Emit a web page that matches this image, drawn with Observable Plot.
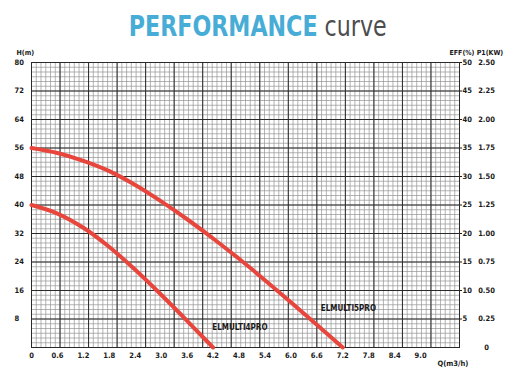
<!DOCTYPE html>
<html><head><meta charset="utf-8">
<script src="https://cdn.jsdelivr.net/npm/d3@7"></script>
<script src="https://cdn.jsdelivr.net/npm/@observablehq/plot@0.6"></script>
<style>
body{margin:0;background:#fff;width:515px;height:384px;overflow:hidden;position:relative;}
#title{position:absolute;top:12px;left:0;width:515px;text-align:center;font-family:"DejaVu Sans Condensed","DejaVu Sans",sans-serif;font-stretch:condensed;font-size:29px;line-height:29px;white-space:nowrap;}
#title .in{display:inline-block;transform:scaleX(0.85);transform-origin:center;}
#chart{position:absolute;top:42px;left:0;}
svg text{font-stretch:condensed;}
</style></head><body>
<div id="title"><span class="in"><span style="color:#47add6;font-weight:bold">PERFORMANCE</span> <span style="color:#4d4d4f">curve</span></span></div>
<div id="chart"></div>
<script>
// Series: flow Q (m3/h) and head H (m)
const flow5 = [0, 0.6, 1.2, 1.8, 2.4, 3.0, 3.6, 4.2, 4.8, 5.4, 6.0, 6.6, 7.2];
const head5 = [56, 54.6, 52.4, 49.5, 45.6, 41.0, 36.0, 30.6, 24.9, 18.9, 12.7, 6.4, 0];
const flow4 = [0, 0.6, 1.2, 1.8, 2.4, 3.0, 3.6, 4.2];
const head4 = [40, 37.6, 33.6, 28.2, 21.8, 14.8, 7.5, 0];
const seriesNames = ["ELMULTI5PRO", "ELMULTI4PRO"];
const labelQ = [6.69, 4.18];
const labelH = [10.9, 5.7];

// Tick labels
const qTicks = [0, 0.6, 1.2, 1.8, 2.4, 3.0, 3.6, 4.2, 4.8, 5.4, 6.0, 6.6, 7.2, 7.8, 8.4, 9.0];
const hTicks = [8, 16, 24, 32, 40, 48, 56, 64, 72, 80];
const effTicks = [5, 10, 15, 20, 25, 30, 35, 40, 45, 50];
const p1Ticks = [0, 0.25, 0.5, 0.75, 1.0, 1.25, 1.5, 1.75, 2.0, 2.25, 2.5];

const QMAX = 9.9, HMAX = 80;
const data5 = flow5.map((q, i) => ({q, h: head5[i]}));
const data4 = flow4.map((q, i) => ({q, h: head4[i]}));
const labels = seriesNames.map((n, i) => ({n, q: labelQ[i], h: labelH[i]}));

// generic square grid: 15 x 10 major cells, 6 subdivisions each
const majorX = d3.range(16).map(i => i * QMAX / 15);
const minorX = d3.range(91).map(i => i * QMAX / 90);
const majorY = d3.range(11).map(i => i * HMAX / 10);
const minorY = d3.range(61).map(i => i * HMAX / 60);

const font = '"DejaVu Sans Condensed","DejaVu Sans",sans-serif';
const red = "#e8463c";

const chart = Plot.plot({
  width: 515, height: 342,
  marginTop: 20, marginBottom: 37, marginLeft: 31, marginRight: 56,
  x: {domain: [0, QMAX]},
  y: {domain: [0, HMAX]},
  style: {fontFamily: font, fontSize: "7.5px", fontWeight: "bold", color: "#1a1a1a", background: "#fff"},
  marks: [
    Plot.ruleX(minorX, {stroke: "#939393", strokeWidth: 0.7}),
    Plot.ruleY(minorY, {stroke: "#939393", strokeWidth: 0.7}),
    Plot.ruleX(majorX, {stroke: "#2a2a2a", strokeWidth: 1}),
    Plot.ruleY(majorY, {stroke: "#2a2a2a", strokeWidth: 1}),
    Plot.frame({stroke: "#2a2a2a"}),
    Plot.line(data5, {x: "q", y: "h", stroke: red, strokeWidth: 4, curve: "monotone-x"}),
    Plot.line(data4, {x: "q", y: "h", stroke: red, strokeWidth: 4, curve: "monotone-x"}),
    Plot.text(labels, {x: "q", y: "h", text: "n", textAnchor: "start", fill: "#1a1a1a", fontSize: 8}),
    Plot.axisX(qTicks, {tickSize: 0, tickPadding: 5, label: null,
      tickFormat: d => d === 0 ? "0" : d.toFixed(1)}),
    Plot.axisY(hTicks, {anchor: "left", tickSize: 0, tickPadding: 17, textAnchor: "start", label: null}),
    Plot.axisY(effTicks.map(e => e * 8 / 5), {anchor: "right", tickSize: 2, tickPadding: 1, label: null,
      tickFormat: d => String(Math.round(d * 5 / 8))}),
    Plot.text(p1Ticks, {y: d => d * 32, text: d => d === 0 ? "0" : d.toFixed(2),
      frameAnchor: "right", dx: 27, textAnchor: "middle"}),
    Plot.text(["H(m)"], {frameAnchor: "top-left", dx: -15, dy: -12, textAnchor: "start", fontSize: 7}),
    Plot.text(["EFF(%) P1(KW)"], {frameAnchor: "top-right", dx: -10, dy: -12, textAnchor: "start", fontSize: 7}),
    Plot.text(["Q(m3/h)"], {frameAnchor: "bottom-right", dx: -22, dy: 18, textAnchor: "start"})
  ]
});
document.getElementById("chart").appendChild(chart);
</script>
</body></html>
